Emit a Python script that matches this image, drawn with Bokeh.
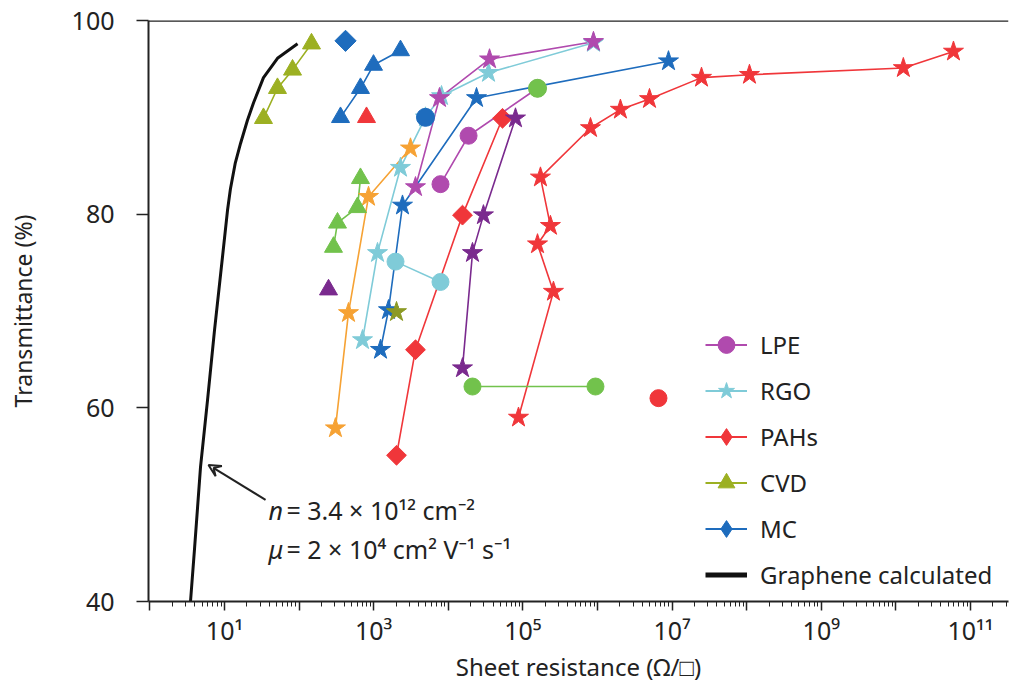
import numpy as np
from bokeh.plotting import figure
from bokeh.models import (Range1d, FixedTicker, Span, Label, Arrow, VeeHead,
                          Legend, LegendItem)
from bokeh.embed import file_html
from bokeh.resources import INLINE

FONT = "Noto Sans"
TXT = "#222222"

# ---------------- data (sheet resistance in ohm/sq, transmittance in %) ----------------
graphene_R = [3.5, 3.96, 4.77, 5.92, 7.34, 9.4, 10.97, 12.0, 13.96, 16.4, 20.3, 24.5,
              33.3, 51.3, 95.3]
graphene_T = [40.0, 45.4, 53.9, 60.8, 68.0, 75.6, 80.4, 82.6, 85.3, 87.3, 89.7, 91.5,
              94.1, 96.1, 97.6]

cvd_tri_R = [33.3, 51.3, 81.6, 146.6]
cvd_tri_T = [89.9, 93.0, 94.9, 97.6]

mc_dia_R = [419]
mc_dia_T = [97.9]

blue_tri_R = [359, 665, 994, 2287]
blue_tri_T = [90.0, 93.0, 95.4, 96.9]

red_tri_R = [801]
red_tri_T = [90.0]

rgo_star_R = [708, 1125, 2287, 4944, 8110, 34600, 883000]
rgo_star_T = [67.0, 76.0, 84.8, 90.0, 92.2, 94.6, 97.7]

blue_circ_R = [4944]
blue_circ_T = [90.0]

lpe_star_R = [3633, 7620, 35700, 883000]
lpe_star_T = [82.8, 92.0, 96.0, 97.8]

blue_star_R = [1234, 1578, 2432, 23900, 8.95e6]
blue_star_T = [66.0, 70.1, 80.9, 92.0, 95.8]

olive_star_R = [2022]
olive_star_T = [69.9]

orange_star_R = [307, 459, 852, 3113]
orange_star_T = [57.9, 69.8, 81.8, 86.8]

green_tri_R = [289, 327, 606, 665]
green_tri_T = [76.6, 79.1, 80.7, 83.7]

purple_tri_R = [248]
purple_tri_T = [72.2]

pah_dia_R = [2022, 3633, 15500, 53300]
pah_dia_T = [55.1, 66.0, 79.9, 89.9]

purple_star_R = [15500, 21100, 29600, 79600]
purple_star_T = [64.1, 76.0, 79.9, 89.9]

red_star_R = [87300, 257000, 157000, 234000, 172000, 806000, 2.03e6, 4.98e6,
              2.48e7, 1.09e8, 1.26e10, 5.92e10]
red_star_T = [59.0, 72.0, 76.9, 78.8, 83.8, 88.9, 90.8, 91.9, 94.1, 94.4, 95.1, 96.8]

green_circ_R = [21100, 940000]
green_circ_T = [62.2, 62.2]

red_circ_R = [6.57e6]
red_circ_T = [61.0]

cyan_circ_R = [1960, 7860]
cyan_circ_T = [75.1, 73.0]

lpe_circ_R = [7860, 18700, 157000]
lpe_circ_T = [83.1, 88.1, 93.0]

green_pt_R = [157000]
green_pt_T = [93.0]

x_major = [10 ** k for k in range(0, 12)]
x_minor = [m * 10 ** k for k in range(0, 12) for m in range(2, 10)]
x_labels = {10: "10¹", 1000: "10³", 100000: "10⁵", 10 ** 7: "10⁷",
            10 ** 9: "10⁹", 10 ** 11: "10¹¹"}
y_ticks = [40, 60, 80, 100]

legend_labels = ["LPE", "RGO", "PAHs", "CVD", "MC", "Graphene calculated"]

# ---------------- colours ----------------
MAGENTA = "#B04AAE"
CYAN = "#7FCBD8"
RED = "#F0363A"
OLIVE = "#9CB022"
BLUE = "#1E6CBD"
ORANGE = "#F6A234"
LGREEN = "#72C24C"
PURPLE = "#7A2A8E"
DOLIVE = "#8C9A25"

p = figure(width=1014, height=685, x_axis_type="log",
           x_range=Range1d(10 ** -0.019, 10 ** 11.51), y_range=Range1d(40, 100),
           output_backend="svg", toolbar_location=None,
           min_border_left=148, min_border_right=6, min_border_top=20, min_border_bottom=83)
p.outline_line_color = None
p.grid.visible = False

# top frame line
p.add_layout(Span(location=100, dimension="width", line_color=TXT, line_width=2.5))

# graphene calculated curve
graphene_r = p.line(graphene_R, graphene_T, line_color="#111111", line_width=3)

LW = 1.6
DIA = np.pi / 4
series = {
    # name: (R, T, color, marker, size, angle)
    "cvd_tri": (cvd_tri_R, cvd_tri_T, OLIVE, "triangle", 18, 0),
    "blue_tri": (blue_tri_R, blue_tri_T, BLUE, "triangle", 18, 0),
    "rgo_star": (rgo_star_R, rgo_star_T, CYAN, "star", 21, 0),
    "lpe_star": (lpe_star_R, lpe_star_T, MAGENTA, "star", 21, 0),
    "blue_star": (blue_star_R, blue_star_T, BLUE, "star", 21, 0),
    "orange_star": (orange_star_R, orange_star_T, ORANGE, "star", 21, 0),
    "green_tri": (green_tri_R, green_tri_T, LGREEN, "triangle", 18, 0),
    "pah_dia": (pah_dia_R, pah_dia_T, RED, "square", 14, DIA),
    "purple_star": (purple_star_R, purple_star_T, PURPLE, "star", 21, 0),
    "red_star": (red_star_R, red_star_T, RED, "star", 21, 0),
    "green_circ": (green_circ_R, green_circ_T, LGREEN, "circle", 17, 0),
    "cyan_circ": (cyan_circ_R, cyan_circ_T, CYAN, "circle", 17, 0),
    "lpe_circ": (lpe_circ_R, lpe_circ_T, MAGENTA, "circle", 17, 0),
}
for k, (R, T, c, m, s, a) in series.items():
    p.line(R, T, line_color=c, line_width=LW)
for k, (R, T, c, m, s, a) in series.items():
    p.scatter(R, T, marker=m, size=s, angle=a, fill_color=c, line_color=c)

singles = {
    "mc_dia": (mc_dia_R, mc_dia_T, BLUE, "square", 15, DIA),
    "red_tri": (red_tri_R, red_tri_T, RED, "triangle", 18, 0),
    "blue_circ": (blue_circ_R, blue_circ_T, BLUE, "circle", 18, 0),
    "olive_star": (olive_star_R, olive_star_T, DOLIVE, "star", 21, 0),
    "purple_tri": (purple_tri_R, purple_tri_T, PURPLE, "triangle", 18, 0),
    "red_circ": (red_circ_R, red_circ_T, RED, "circle", 17, 0),
    "green_pt": (green_pt_R, green_pt_T, LGREEN, "circle", 18, 0),
}
for k, (R, T, c, m, s, a) in singles.items():
    p.scatter(R, T, marker=m, size=s, angle=a, fill_color=c, line_color=c)

# ---------------- axes ----------------
xa = p.xaxis[0]
xa.ticker = FixedTicker(ticks=x_major, minor_ticks=x_minor)
xa.major_label_overrides = {t: x_labels.get(t, "") for t in x_major}
xa.major_label_text_font = FONT
xa.major_label_text_font_size = "25px"
xa.major_label_text_color = TXT
xa.major_label_standoff = 2
xa.major_tick_in = 0
xa.major_tick_out = 9
xa.minor_tick_in = 0
xa.minor_tick_out = 5
xa.axis_line_width = 2
xa.axis_line_color = TXT
xa.major_tick_line_color = TXT
xa.minor_tick_line_color = TXT
xa.major_tick_line_width = 1.5
xa.axis_label = "Sheet resistance (Ω/□)"
xa.axis_label_text_font = FONT
xa.axis_label_text_font_size = "24px"
xa.axis_label_text_font_style = "normal"
xa.axis_label_text_color = TXT
xa.axis_label_standoff = 0

ya = p.yaxis[0]
ya.ticker = FixedTicker(ticks=y_ticks)
ya.major_label_text_font = FONT
ya.major_label_text_font_size = "25px"
ya.major_label_text_color = TXT
ya.major_label_standoff = 22
ya.major_tick_in = 0
ya.major_tick_out = 12
ya.minor_tick_out = 0
ya.axis_line_width = 2
ya.axis_line_color = TXT
ya.major_tick_line_color = TXT
ya.major_tick_line_width = 1.5
ya.axis_label = "Transmittance (%)"
ya.axis_label_text_font = FONT
ya.axis_label_text_font_size = "23px"
ya.axis_label_text_font_style = "normal"
ya.axis_label_text_color = TXT
ya.axis_label_standoff = 30

# ---------------- annotation ----------------
p.add_layout(Arrow(end=VeeHead(size=12, line_color=TXT, line_width=2, fill_color=None),
                   x_start=35.5, y_start=50.5, x_end=6.1, y_end=54.1,
                   line_color=TXT, line_width=2))
ann = [
    (38.9, 49.5, "n", "italic"),
    (67.8, 49.5, "= 3.4 × 10¹² cm⁻²", "normal"),
    (38.9, 45.4, "μ", "italic"),
    (67.8, 45.4, "= 2 × 10⁴ cm² V⁻¹ s⁻¹", "normal"),
]
for x, y, t, st in ann:
    p.add_layout(Label(x=x, y=y, text=t, text_font=FONT, text_font_size="25px",
                       text_font_style=st, text_color=TXT, text_baseline="alphabetic"))

# ---------------- legend (style-only renderers, no visible marks) ----------------
legend_style = [
    (MAGENTA, "circle", 2),
    (CYAN, "star", 2),
    (RED, "diamond", 2),
    (OLIVE, "triangle", 2),
    (BLUE, "diamond", 2),
    ("#111111", None, 5),
]
nan = [float("nan")]
items = []
for lab, (c, m, w) in zip(legend_labels, legend_style):
    rs = [p.line(nan, nan, line_color=c, line_width=w)]
    if m is not None:
        rs.append(p.scatter(nan, nan, marker=m, fill_color=c, line_color=c))
    items.append(LegendItem(label=lab, renderers=rs))

legend = Legend(items=items, location=(557, 4), glyph_width=42, glyph_height=45,
                label_height=45, spacing=1, padding=0, margin=0,
                border_line_color=None, background_fill_alpha=0,
                label_text_font=FONT, label_text_font_size="24px",
                label_text_color=TXT, label_standoff=13)
p.add_layout(legend)

open("out.html", "w").write(file_html(p, INLINE))
